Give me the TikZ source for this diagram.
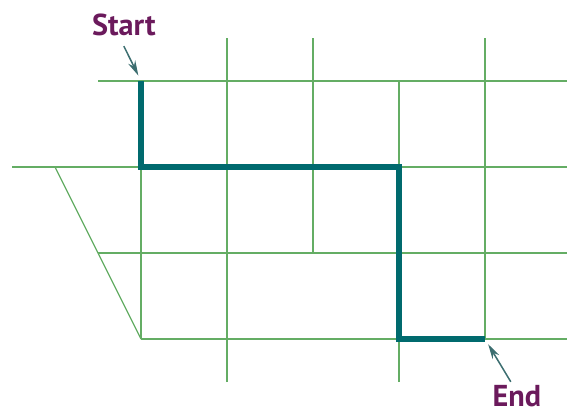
\documentclass[tikz,border=0pt]{standalone}
\usepackage{fontspec}
\setsansfont{PT Sans}
\usepackage{xcolor}
\usetikzlibrary{arrows.meta}
\definecolor{gridgreen}{HTML}{64AD64}
\definecolor{pathteal}{HTML}{006A6E}
\definecolor{labelpurple}{HTML}{6B1A5C}
\definecolor{arrowteal}{HTML}{3C6E70}

\begin{document}
\begin{tikzpicture}[line width=0.4pt,
    gridline/.style={gridgreen, line width=0.4pt},
    route/.style={pathteal, line width=2pt, line join=miter},
    tag/.style={font=\sffamily\bfseries\fontsize{10}{12}\selectfont, text=labelpurple, anchor=base},
    pointer/.style={-{Stealth[length=5pt, width=2.6pt]}, arrowteal, line width=0.5pt}]
    \useasboundingbox (-1.64,-0.826) rectangle (4.953,3.942);

    % 网格横线
    \draw[gridline] (-0.5,3) -- (4.96,3);
    \draw[gridline] (-1.5,2) -- (4.96,2);
    \draw[gridline] (-0.5,1) -- (4.96,1);
    \draw[gridline] (0,0) -- (4.96,0);

    % 网格竖线
    \draw[gridline] (0,0) -- (0,3);
    \draw[gridline] (1,-0.5) -- (1,3.5);
    \draw[gridline] (2,1) -- (2,3.5);
    \draw[gridline] (3,-0.5) -- (3,3);
    \draw[gridline] (4,0) -- (4,3.5);

    % 左侧斜边
    \draw[gridline] (-1,2) -- (0,0);

    % 路线
    \coordinate (p0) at (0,3);
    \coordinate (p1) at (0,2);
    \coordinate (p2) at (3,2);
    \coordinate (p3) at (3,0);
    \coordinate (p4) at (4,0);
    \draw[route] (p0) -- (p1) -- (p2) -- (p3) -- (p4);

    % 起点和终点标注
    \node[tag] (startlbl) at (-0.2,3.535) {Start};
    \node[tag] (endlbl) at (4.37,-0.78) {End};
    \draw[pointer, shorten >=2pt] (startlbl.south) -- (p0);
    \draw[pointer, shorten >=2pt] ([xshift=-2pt,yshift=-2.5pt]endlbl.north) -- (p4);
\end{tikzpicture}
\end{document}
